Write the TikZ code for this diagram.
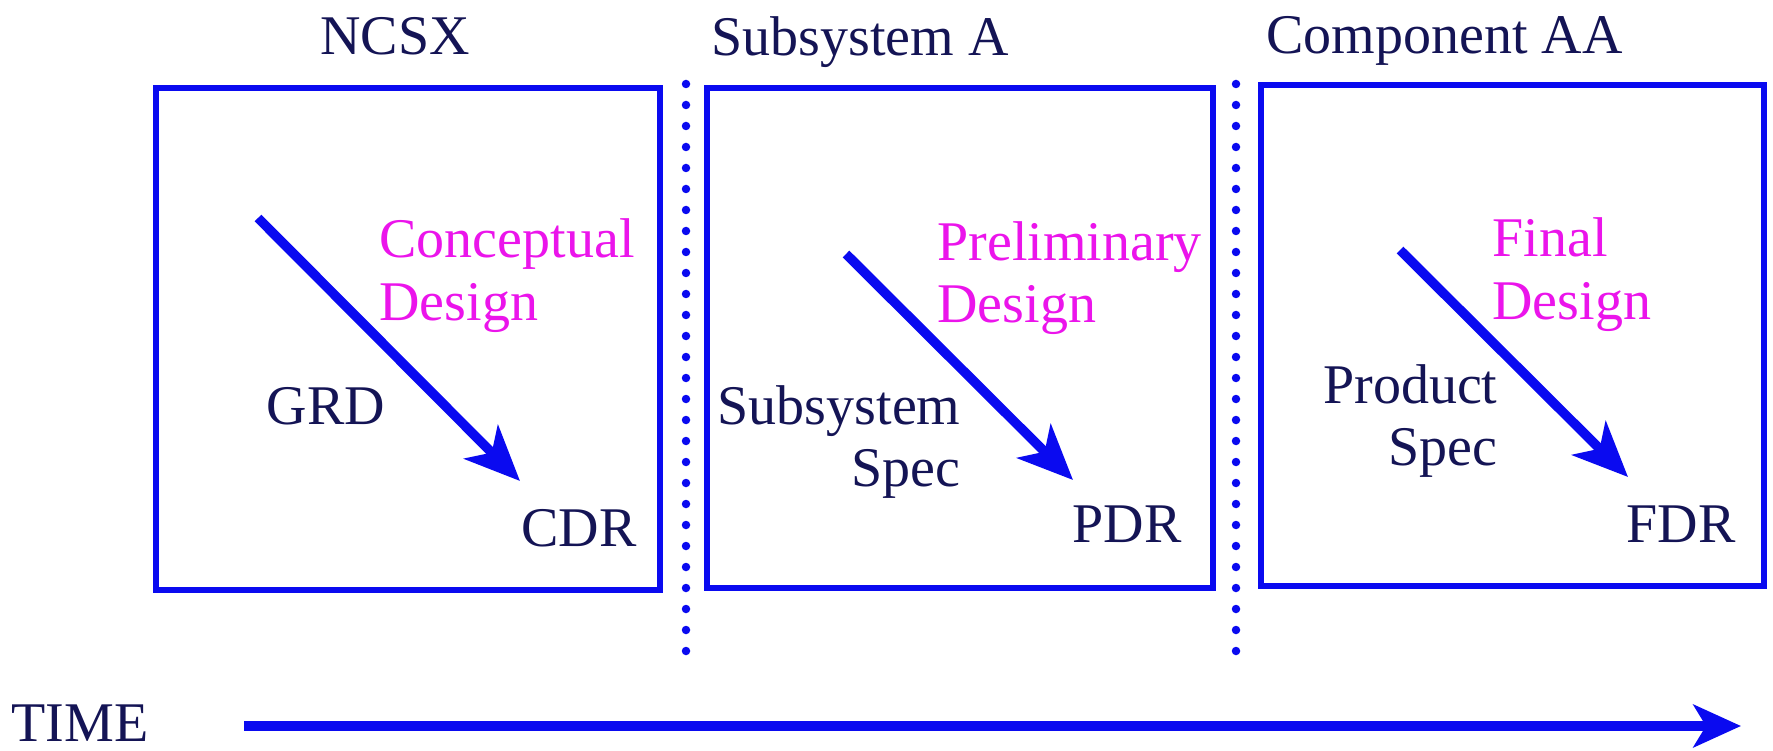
\documentclass[tikz,border=0pt]{standalone}
\usepackage{fontspec}
\setmainfont{Liberation Serif}
\usetikzlibrary{arrows.meta}
\definecolor{lineblue}{RGB}{10,10,240}
\definecolor{navy}{RGB}{20,20,85}
\definecolor{mag}{RGB}{235,20,235}
\begin{document}
\begin{tikzpicture}[x=0.4pt,y=-0.4pt,
  phasebox/.style={draw=lineblue, line width=2.6pt},
  sep/.style={draw=lineblue, line width=3.4pt, line cap=round, dash pattern=on 0pt off 8.4pt},
  flow/.style={draw=lineblue, line width=3.8pt, -{Stealth[length=22pt,width=19pt,inset=6pt]}},
  timeflow/.style={draw=lineblue, line width=3.8pt, -{Stealth[length=19pt,width=17pt,inset=5pt]}},
  lbl/.style={text=navy, font=\fontsize{22.4}{26}\selectfont, inner sep=0pt},
  phase/.style={text=mag, font=\fontsize{22.4}{26}\selectfont, inner sep=0pt},
]
\useasboundingbox (0,0) rectangle (1773,751);

% titles
\node[lbl, anchor=base] (ncsx) at (395,55) {NCSX};
\node[lbl, anchor=base west] (subA) at (711,56) {Subsystem A};
\node[lbl, anchor=base west] (compAA) at (1266,54) {Component AA};

% boxes
\draw[phasebox] (156,88) rectangle (660,590);
\draw[phasebox] (707,88) rectangle (1213,588);
\draw[phasebox] (1261,85) rectangle (1764,586);

% separators
\coordinate (s1t) at (686,84);
\coordinate (s1b) at (686,662);
\coordinate (s2t) at (1236,84);
\coordinate (s2b) at (1236,662);
\draw[sep] (s1t) -- (s1b);
\draw[sep] (s2t) -- (s2b);

% stage 1
\coordinate (a1s) at (258,218);
\coordinate (a1e) at (520,481);
\draw[flow] (a1s) -- (a1e);
\node[phase, anchor=base west] (cd1) at (379,258) {Conceptual};
\node[phase, anchor=base west] (cd2) at (379,321) {Design};
\node[lbl, anchor=base] (grd) at (326,425) {GRD};
\node[lbl, anchor=base] (cdr) at (579,546) {CDR};

% stage 2
\coordinate (a2s) at (846,254);
\coordinate (a2e) at (1073,480);
\draw[flow] (a2s) -- (a2e);
\node[phase, anchor=base west] (pd1) at (937,261) {Preliminary};
\node[phase, anchor=base west] (pd2) at (937,323) {Design};
\node[lbl, anchor=base east] (ss1) at (961,425) {Subsystem};
\node[lbl, anchor=base east] (ss2) at (961,487) {Spec};
\node[lbl, anchor=base] (pdr) at (1127,543) {PDR};

% stage 3
\coordinate (a3s) at (1400,250);
\coordinate (a3e) at (1628,477);
\draw[flow] (a3s) -- (a3e);
\node[phase, anchor=base west] (fd1) at (1492,257) {Final};
\node[phase, anchor=base west] (fd2) at (1492,320) {Design};
\node[lbl, anchor=base east] (ps1) at (1498,404) {Product};
\node[lbl, anchor=base east] (ps2) at (1498,466) {Spec};
\node[lbl, anchor=base] (fdr) at (1681,542) {FDR};

% time axis
\node[lbl, anchor=base west] (time) at (11,741) {TIME};
\coordinate (ts) at (244,726);
\coordinate (te) at (1741,726);
\draw[timeflow] (ts) -- (te);
\end{tikzpicture}
\end{document}
